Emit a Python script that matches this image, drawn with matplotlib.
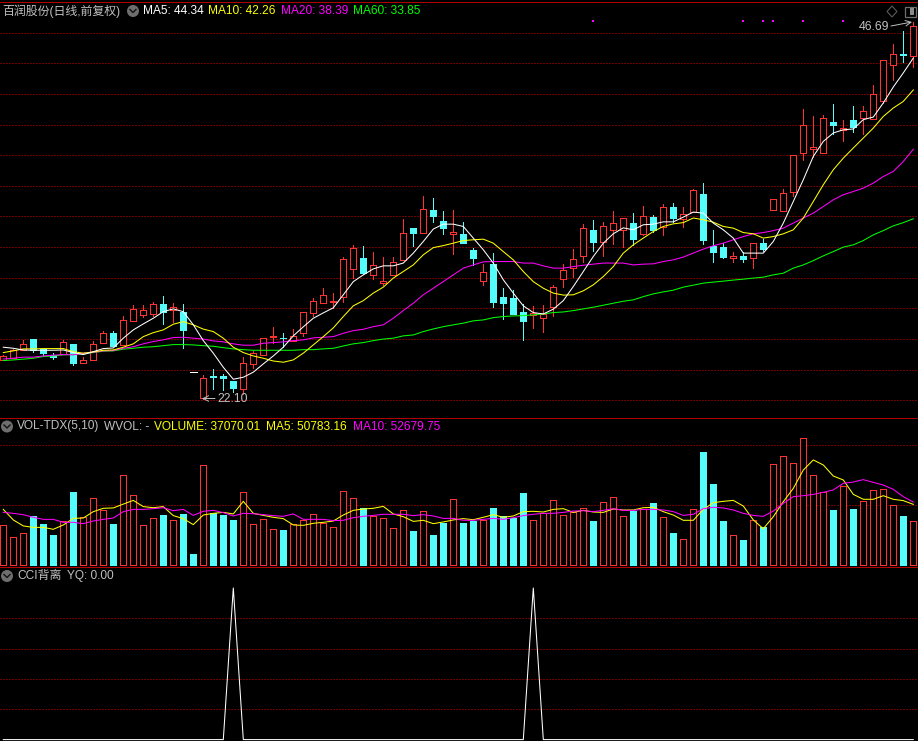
import matplotlib
matplotlib.use('Agg')
import matplotlib.pyplot as plt
from matplotlib.patches import Circle, Polygon, Rectangle
import numpy as np

plt.rcParams['font.family'] = ['Liberation Sans', 'Noto Sans CJK SC', 'DejaVu Sans']

# ===================== 1. K line data =====================
opens = [24.66, 24.77, 25.29, 25.99, 25.36, 24.97, 25.03, 25.69, 24.46, 24.66,
         25.77, 26.38, 25.62, 27.20, 27.60, 27.66, 28.30, 27.90, 27.77, 23.84,
         22.14, 23.56, 23.61, 23.27, 22.76, 24.40, 24.99, 26.12, 26.10, 25.86,
         26.37, 27.69, 28.34, 28.45, 28.77, 30.60, 31.28, 30.21, 29.69, 30.15,
         31.13, 33.26, 32.92, 34.44, 33.70, 32.85, 32.87, 31.83, 29.78, 30.91,
         28.76, 28.69, 27.77, 27.58, 27.36, 28.08, 29.95, 30.65, 31.39, 33.13,
         32.31, 33.11, 33.11, 33.57, 32.85, 33.96, 33.30, 34.61, 33.83, 34.31,
         35.48, 32.09, 32.00, 31.26, 31.41, 31.32, 32.28, 34.42, 34.39, 35.57,
         38.12, 38.40, 38.12, 40.19, 39.64, 40.32, 40.40, 40.34, 41.51, 43.89,
         44.60, 44.45]
highs = [24.97, 25.36, 25.95, 25.99, 25.36, 25.09, 25.95, 25.69, 24.84, 25.88,
         26.53, 26.53, 27.51, 28.23, 28.23, 28.43, 28.82, 28.34, 28.30, 23.84,
         23.66, 24.05, 23.72, 23.27, 24.84, 25.23, 26.06, 26.81, 26.42, 26.65,
         27.77, 28.69, 29.34, 29.01, 31.37, 32.15, 32.09, 31.69, 31.35, 31.35,
         33.85, 33.26, 35.35, 35.22, 34.35, 34.44, 33.65, 31.96, 30.91, 31.60,
         29.36, 29.21, 28.30, 28.17, 28.23, 29.52, 30.91, 31.89, 33.52, 33.79,
         33.65, 34.37, 33.90, 34.24, 34.70, 34.11, 34.83, 34.90, 34.63, 35.79,
         36.20, 33.13, 32.26, 31.69, 31.69, 32.26, 32.56, 35.14, 35.81, 38.01,
         41.03, 40.58, 40.64, 41.36, 40.32, 41.23, 41.23, 42.60, 44.22, 45.28,
         46.13, 46.69]
lows = [24.66, 24.77, 25.29, 25.16, 24.90, 24.72, 25.03, 24.31, 24.46, 24.66,
        25.77, 25.55, 25.62, 27.20, 27.47, 27.51, 26.99, 27.12, 25.42, 23.84,
        22.10, 22.73, 22.68, 22.57, 22.42, 24.10, 24.99, 25.75, 25.47, 25.86,
        26.21, 27.51, 28.34, 28.04, 28.45, 29.98, 30.26, 29.93, 29.54, 30.15,
        31.13, 32.09, 32.92, 33.65, 32.87, 31.58, 32.24, 30.84, 29.54, 28.10,
        27.34, 27.64, 25.95, 26.73, 26.47, 27.51, 29.41, 30.06, 31.04, 31.76,
        31.43, 32.22, 32.02, 32.15, 32.80, 33.02, 32.80, 33.65, 33.33, 34.31,
        32.22, 31.06, 31.28, 31.06, 31.06, 30.67, 31.76, 34.42, 34.39, 35.31,
        37.66, 37.90, 38.12, 39.40, 38.95, 39.49, 39.40, 40.34, 41.40, 42.93,
        44.10, 43.73]
closes = [24.92, 25.29, 25.69, 25.29, 25.11, 24.86, 25.80, 24.46, 24.62, 25.66,
          26.38, 25.55, 27.23, 27.95, 27.89, 28.28, 27.77, 28.08, 26.60, 23.84,
          23.44, 23.50, 23.48, 22.81, 24.42, 25.08, 26.06, 26.21, 26.06, 26.21,
          27.76, 28.47, 28.87, 28.51, 31.22, 31.94, 30.34, 30.83, 29.80, 31.02,
          32.92, 32.95, 34.48, 34.05, 33.22, 32.98, 32.24, 31.30, 30.41, 28.45,
          28.36, 27.64, 27.20, 27.69, 27.64, 29.39, 30.50, 31.22, 33.24, 32.35,
          33.37, 33.57, 33.90, 32.56, 34.03, 33.13, 34.61, 33.91, 34.16, 35.72,
          32.48, 31.71, 31.37, 31.41, 31.24, 32.26, 31.89, 35.14, 35.53, 38.01,
          39.99, 38.53, 40.43, 39.99, 39.77, 39.86, 40.89, 42.00, 44.22, 44.61,
          44.52, 46.44]

ma5 = [25.47, 25.40, 25.29, 25.27, 25.27, 25.27, 25.29, 25.12, 24.99, 25.18,
       25.38, 25.42, 26.06, 26.60, 26.99, 27.36, 27.79, 27.97, 27.79, 26.93,
       25.90, 25.08, 24.16, 23.38, 23.51, 23.84, 24.38, 24.90, 25.47, 26.21,
       26.80, 27.36, 27.71, 28.04, 28.89, 29.75, 30.19, 30.58, 30.78, 30.78,
       30.96, 31.61, 32.37, 33.18, 33.50, 33.50, 33.35, 32.59, 31.83, 30.96,
       29.87, 29.00, 28.17, 27.73, 27.64, 27.95, 28.51, 29.43, 30.41, 31.39,
       32.26, 32.87, 33.26, 33.13, 33.46, 33.50, 33.65, 33.65, 33.96, 34.29,
       34.22, 33.57, 33.13, 32.59, 31.61, 31.61, 31.61, 32.37, 33.57, 34.98,
       36.40, 37.92, 38.90, 39.45, 39.66, 39.71, 40.32, 40.49, 41.41, 42.45,
       43.37, 44.34]
ma10 = [25.12, 25.23, 25.36, 25.36, 25.38, 25.38, 25.38, 25.18, 25.08, 25.16,
        25.27, 25.29, 25.47, 25.69, 26.16, 26.42, 26.60, 26.97, 27.14, 26.93,
        26.65, 26.49, 26.06, 25.47, 25.12, 24.90, 24.75, 24.57, 24.49, 24.64,
        25.08, 25.62, 26.16, 26.73, 27.47, 28.17, 28.51, 29.00, 29.39, 29.98,
        30.41, 30.84, 31.50, 31.97, 32.10, 32.26, 32.43, 32.48, 32.52, 32.26,
        31.71, 31.17, 30.41, 29.75, 29.32, 29.00, 28.87, 28.89, 29.15, 29.54,
        30.08, 30.73, 31.61, 32.15, 32.59, 33.02, 33.35, 33.52, 33.60, 33.90,
        33.79, 33.63, 33.35, 33.24, 32.95, 32.87, 32.59, 32.69, 32.87, 33.13,
        33.90, 34.98, 36.07, 37.05, 37.81, 38.47, 39.12, 39.77, 40.53, 41.08,
        41.51, 42.26]
ma20 = [24.70, 24.75, 24.82, 24.82, 24.90, 24.95, 24.99, 24.97, 25.08, 25.14,
        25.23, 25.25, 25.40, 25.50, 25.69, 25.84, 25.95, 26.10, 26.12, 26.06,
        26.00, 25.88, 25.82, 25.69, 25.60, 25.60, 25.73, 25.77, 25.82, 25.90,
        25.95, 26.08, 26.12, 26.16, 26.38, 26.55, 26.64, 26.81, 26.93, 27.36,
        27.86, 28.34, 28.89, 29.32, 29.75, 30.19, 30.63, 30.84, 31.04, 31.06,
        31.06, 31.06, 30.96, 30.96, 30.78, 30.63, 30.63, 30.73, 30.82, 30.89,
        30.96, 30.96, 30.96, 30.84, 30.89, 30.91, 31.06, 31.17, 31.35, 31.61,
        31.87, 32.09, 32.26, 32.48, 32.69, 32.87, 32.95, 33.08, 33.24, 33.57,
        33.90, 34.22, 34.65, 35.09, 35.42, 35.63, 35.85, 36.18, 36.61, 36.94,
        37.59, 38.39]
ma60 = [24.60, 24.64, 24.69, 24.75, 24.86, 24.90, 24.97, 24.99, 25.03, 25.12,
        25.21, 25.23, 25.34, 25.40, 25.47, 25.50, 25.57, 25.64, 25.64, 25.62,
        25.57, 25.53, 25.44, 25.36, 25.31, 25.27, 25.27, 25.27, 25.27, 25.27,
        25.31, 25.31, 25.36, 25.40, 25.55, 25.69, 25.77, 25.90, 26.00, 26.06,
        26.21, 26.27, 26.49, 26.66, 26.81, 26.93, 27.04, 27.19, 27.25, 27.40,
        27.47, 27.51, 27.53, 27.58, 27.64, 27.73, 27.77, 27.86, 27.97, 28.08,
        28.21, 28.34, 28.47, 28.56, 28.77, 28.95, 29.08, 29.19, 29.39, 29.52,
        29.65, 29.72, 29.78, 29.85, 29.91, 29.98, 30.04, 30.19, 30.30, 30.63,
        30.84, 31.12, 31.43, 31.71, 32.00, 32.15, 32.43, 32.80, 33.08, 33.39,
        33.60, 33.85]

# ===================== 2. volume data =====================
volume = [33308, 23307, 26641, 41087, 34419, 25252, 36642, 61088, 39975, 55810,
          45809, 34419, 74978, 58310, 33308, 39142, 41920, 37475, 42753, 9417,
          83312, 43309, 41920, 37753, 60810, 34142, 38309, 29975, 29419, 34142,
          37475, 42476, 35531, 31641, 61922, 55810, 47754, 41087, 39142, 30808,
          45809, 28586, 44976, 25252, 35253, 54977, 35253, 37197, 37475, 47754,
          41087, 39420, 60255, 37475, 43865, 54143, 41642, 44698, 47476, 36920,
          52476, 56643, 40809, 45531, 47198, 51921, 39975, 26919, 21641, 46643,
          94424, 67755, 36920, 24974, 21085, 37475, 32197, 84146, 90813, 84979,
          105814, 74978, 61088, 46087, 66089, 46920, 53310, 62477, 63310, 49976,
          41087, 37070]
vol_ma5 = [46.6, 37.8, 32.8, 31.6, 31.6, 30.0, 33.6, 39.1, 39.4, 44.7,
           47.5, 47.8, 51.0, 54.1, 48.9, 48.0, 48.9, 41.4, 38.9, 33.9,
           41.9, 43.3, 44.1, 42.8, 53.3, 43.3, 41.6, 40.0, 38.9, 33.6,
           33.3, 35.0, 35.8, 36.9, 41.9, 45.8, 46.9, 47.5, 49.1, 42.8,
           40.5, 36.6, 37.5, 34.7, 36.1, 37.8, 38.9, 38.0, 40.0, 42.2,
           40.0, 41.1, 44.7, 45.0, 44.4, 46.6, 47.2, 44.1, 45.8, 44.4,
           44.1, 46.9, 46.1, 46.1, 48.0, 48.3, 44.7, 41.9, 37.5, 37.5,
           46.6, 52.2, 53.3, 54.1, 49.4, 37.8, 30.5, 40.5, 53.0, 64.1,
           79.4, 87.8, 83.6, 74.4, 71.1, 59.1, 55.0, 55.0, 58.0, 55.0,
           53.9, 50.78]
vol_ma10 = [44.1, 43.3, 42.2, 40.0, 38.3, 38.3, 35.8, 35.8, 34.7, 36.9,
            38.3, 39.4, 44.7, 46.6, 46.6, 47.2, 48.0, 45.5, 46.6, 41.6,
            45.0, 45.8, 43.9, 41.1, 43.3, 43.0, 42.2, 41.4, 40.8, 42.8,
            38.3, 38.3, 38.3, 37.2, 37.5, 39.7, 40.8, 41.6, 42.5, 42.5,
            42.5, 41.4, 42.2, 41.1, 39.1, 39.1, 37.5, 37.5, 38.3, 39.1,
            38.3, 39.7, 41.4, 42.5, 43.3, 43.3, 44.1, 45.2, 45.5, 44.7,
            45.8, 47.2, 45.8, 45.8, 46.6, 46.6, 46.1, 44.7, 41.6, 42.5,
            47.2, 48.3, 47.8, 46.1, 43.3, 41.6, 40.8, 45.2, 51.6, 57.2,
            58.0, 59.1, 60.8, 62.8, 68.3, 69.4, 71.4, 69.1, 66.9, 63.3,
            57.2, 52.68]

# ===================== 3. 指标 YQ =====================
yq = [0] * 92
yq[23] = 1
yq[53] = 1
dot_idx = [59, 74, 76, 77, 80, 84]
dot_price = 46.78

price_grid = list(range(22, 48, 2))
vol_grid = [50000, 100000]
yq_grid = [0.2, 0.4, 0.6, 0.8]

RED = '#ff3232'
CYAN = '#54fcfc'
GRID = '#e00000'
BORDER = '#b00000'
GRAY = '#c0c0c0'
W, H = 918, 741
LW = 0.5
x = np.arange(92)
up = np.array(closes) > np.array(opens)
doji = np.array(closes) == np.array(opens)

fig = plt.figure(figsize=(W / 100, H / 100), dpi=100, facecolor='black')


def panel(top, bottom):
    ax = fig.add_axes([0, (H - bottom) / H, 1, (bottom - top) / H], facecolor='black')
    ax.set_xlim(-0.33, 91.47)
    ax.set_xticks([])
    ax.set_yticks([])
    for s in ['left', 'right', 'bottom']:
        ax.spines[s].set_visible(False)
    ax.spines['top'].set_color(BORDER)
    ax.spines['top'].set_linewidth(0.72)
    return ax


def grid(ax, levels):
    for v in levels:
        ax.axhline(v, color=GRID, lw=0.72, ls=(0, (1, 2)), zorder=1, snap=True)


def line(ax, ys, color):
    ax.plot(x, ys, color=color, lw=0.75, zorder=6)


# ===================== main panel =====================
ax1 = panel(1.5, 418)
ax1.set_ylim(20.85, 48.03)
grid(ax1, price_grid)
for i in x:
    if doji[i]:
        ax1.hlines(closes[i], i - 0.33, i + 0.33, color='white', lw=LW, zorder=4, antialiased=False)
        continue
    c = RED if up[i] else CYAN
    ax1.vlines(i, lows[i], highs[i], color=c, lw=LW, zorder=3, antialiased=False)
    bottom = min(opens[i], closes[i])
    ax1.bar(i, abs(closes[i] - opens[i]), bottom=bottom, width=0.62,
            facecolor='black' if up[i] else CYAN, edgecolor=c, linewidth=LW,
            zorder=4, antialiased=False)
line(ax1, ma60, '#00ff00')
line(ax1, ma20, '#ff00ff')
line(ax1, ma10, '#ffff00')
line(ax1, ma5, '#ffffff')
ax1.scatter(dot_idx, [dot_price] * len(dot_idx), marker='s', s=3, color='#ff00ff', linewidths=0, zorder=6)

# ===================== volume panel =====================
ax2 = panel(418, 567)
ax2.set_ylim(-1417, 122750)
grid(ax2, vol_grid)
for i in x:
    ax2.bar(i, volume[i], width=0.62, facecolor='black' if up[i] else CYAN,
            edgecolor=RED if up[i] else CYAN, linewidth=LW, zorder=3, antialiased=False)
line(ax2, np.array(vol_ma5) * 1000, '#ffff00')
line(ax2, np.array(vol_ma10) * 1000, '#ff00ff')

# ===================== YQ panel =====================
ax3 = panel(567, 741)
ax3.set_ylim(-0.0092, 1.1385)
grid(ax3, yq_grid)
line(ax3, yq, '#ffffff')

# ===================== header text, icons =====================
top = fig.add_axes([0, 0, 1, 1], facecolor='none')
top.set_xlim(0, W)
top.set_ylim(H, 0)
top.axis('off')


def label(px, py, s, color=GRAY, size=8.6):
    top.text(px, py, s, color=color, fontsize=size, va='center', ha='left', zorder=10)


def chevron(cx, cy):
    top.add_patch(Circle((cx, cy), 6, facecolor='#6e6e6e', edgecolor='none', zorder=10))
    top.plot([cx - 3, cx, cx + 3], [cy - 1.5, cy + 1.5, cy - 1.5], color='#111111', lw=1, zorder=11)


label(2, 11, '百润股份(日线,前复权)', size=8.6)
chevron(133, 11)
label(143, 10.5, 'MA5: 44.34', '#ffffff')
label(208, 10.5, 'MA10: 42.26', '#ffff00')
label(281, 10.5, 'MA20: 38.39', '#ff00ff')
label(353, 10.5, 'MA60: 33.85', '#00ff00')

chevron(7, 426.5)
label(17, 426.5, 'VOL-TDX(5,10)')
label(104, 426.5, 'WVOL: -')
label(154, 426.5, 'VOLUME: 37070.01', '#ffff00')
label(266, 426.5, 'MA5: 50783.16', '#ffff00')
label(353, 426.5, 'MA10: 52679.75', '#ff00ff')

chevron(7, 576)
label(17, 576, 'CCI背离')
label(67, 576, 'YQ: 0.00')

label(859, 27.5, '46.69', size=8.8)
label(217, 399, '22.10', size=8.8)
top.annotate('', xy=(912, 22), xytext=(891, 26), zorder=10,
             arrowprops=dict(arrowstyle='->', color=GRAY, lw=0.7, shrinkA=0, shrinkB=0))
top.annotate('', xy=(202, 398.5), xytext=(215, 398.5), zorder=10,
             arrowprops=dict(arrowstyle='->', color=GRAY, lw=0.7, shrinkA=0, shrinkB=0))

top.add_patch(Polygon([(892, 6), (897, 11.5), (892, 17), (887, 11.5)], closed=True,
                      facecolor='none', edgecolor='#5a5a5a', lw=0.8, zorder=10))
top.add_patch(Rectangle((904.5, 6.5), 11, 10, facecolor='none', edgecolor='#6e6e6e', lw=0.9, zorder=10))
top.add_patch(Rectangle((910, 8), 4, 7, facecolor='#8a8a8a', edgecolor='none', zorder=10))

fig.savefig('out.png', dpi=100, facecolor='black')
